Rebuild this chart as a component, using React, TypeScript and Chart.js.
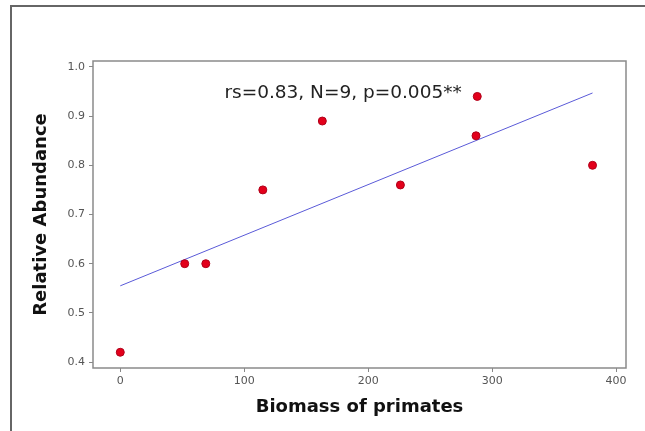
import React, { useEffect, useRef } from "react";
import { Chart, registerables } from "chart.js";

Chart.register(...registerables);

const biomass = [0, 52, 69, 115, 163, 226, 287, 288, 381];
const abundance = [0.42, 0.6, 0.6, 0.75, 0.89, 0.76, 0.86, 0.94, 0.8];
const fitX = [0, 381];
const fitY = [0.555, 0.947];
const xTicks = [0, 100, 200, 300, 400];
const yTicks = [0.4, 0.5, 0.6, 0.7, 0.8, 0.9, 1.0];
const statsLabel = "rs=0.83, N=9, p=0.005**";
const xTitle = "Biomass of primates";
const yTitle = "Relative Abundance";

const FONT = "'DejaVu Sans', sans-serif";

const framePlugin = {
  id: "frameAndLabel",
  afterDraw(chart: any) {
    const { ctx, chartArea: a, scales } = chart;
    ctx.save();
    ctx.strokeStyle = "#8a8a8a";
    ctx.lineWidth = 1.5;
    ctx.strokeRect(a.left, a.top, a.right - a.left, a.bottom - a.top);
    ctx.fillStyle = "#222";
    ctx.font = "18.5px " + FONT;
    ctx.textAlign = "left";
    ctx.textBaseline = "middle";
    ctx.fillText(statsLabel, scales.x.getPixelForValue(84), scales.y.getPixelForValue(0.947));
    ctx.restore();
  },
};

export default function App() {
  const ref = useRef<HTMLCanvasElement>(null);
  useEffect(() => {
    document.body.style.margin = "0";
    const chart = new Chart(ref.current!, {
      type: "scatter",
      data: {
        datasets: [
          {
            type: "line",
            data: fitX.map((x, i) => ({ x, y: fitY[i] })),
            borderColor: "#5a5ad8",
            borderWidth: 1,
            pointRadius: 0,
            fill: false,
            order: 2,
          } as any,
          {
            type: "scatter",
            data: biomass.map((x, i) => ({ x, y: abundance[i] })),
            backgroundColor: "#e3001b",
            borderColor: "#b0001a",
            borderWidth: 1,
            pointRadius: 4,
            order: 1,
          },
        ],
      },
      options: {
        animation: false,
        responsive: false,
        layout: { padding: { left: 0, top: 61, right: 19, bottom: 0 } },
        plugins: { legend: { display: false }, tooltip: { enabled: false } },
        scales: {
          x: {
            type: "linear",
            min: -22,
            max: 408,
            afterBuildTicks: (s: any) => {
              s.ticks = xTicks.map((v) => ({ value: v }));
            },
            afterFit: (s: any) => {
              s.height = 63;
            },
            border: { display: false },
            grid: { drawOnChartArea: false, drawTicks: true, tickLength: 4, color: "#888", lineWidth: 1 },
            ticks: { color: "#555", font: { family: FONT, size: 11 }, padding: 3, maxRotation: 0 },
            title: {
              display: true,
              text: xTitle,
              color: "#111",
              font: { family: FONT, size: 18, weight: "bold" },
              padding: { top: 0, bottom: 13 },
            },
          },
          y: {
            type: "linear",
            min: 0.388,
            max: 1.012,
            afterBuildTicks: (s: any) => {
              s.ticks = yTicks.map((v) => ({ value: v }));
            },
            afterFit: (s: any) => {
              s.width = 93;
            },
            border: { display: false },
            grid: { drawOnChartArea: false, drawTicks: true, tickLength: 4, color: "#888", lineWidth: 1 },
            ticks: {
              color: "#555",
              font: { family: FONT, size: 11 },
              padding: 4,
              callback: (v: any) => Number(v).toFixed(1),
            },
            title: {
              display: true,
              text: yTitle,
              color: "#111",
              font: { family: FONT, size: 18, weight: "bold" },
              padding: { top: 31, bottom: 0 },
            },
          },
        },
      } as any,
      plugins: [framePlugin],
    });
    return () => chart.destroy();
  }, []);

  return (
    <div style={{ position: "absolute", left: 0, top: 0, width: 645, height: 431, background: "#fff" }}>
      <div
        style={{
          position: "absolute",
          left: 10,
          top: 5,
          right: 0,
          bottom: 0,
          borderTop: "2px solid #666",
          borderLeft: "2px solid #666",
        }}
      />
      <canvas ref={ref} width={645} height={431} style={{ position: "absolute", left: 0, top: 0 }} />
    </div>
  );
}
